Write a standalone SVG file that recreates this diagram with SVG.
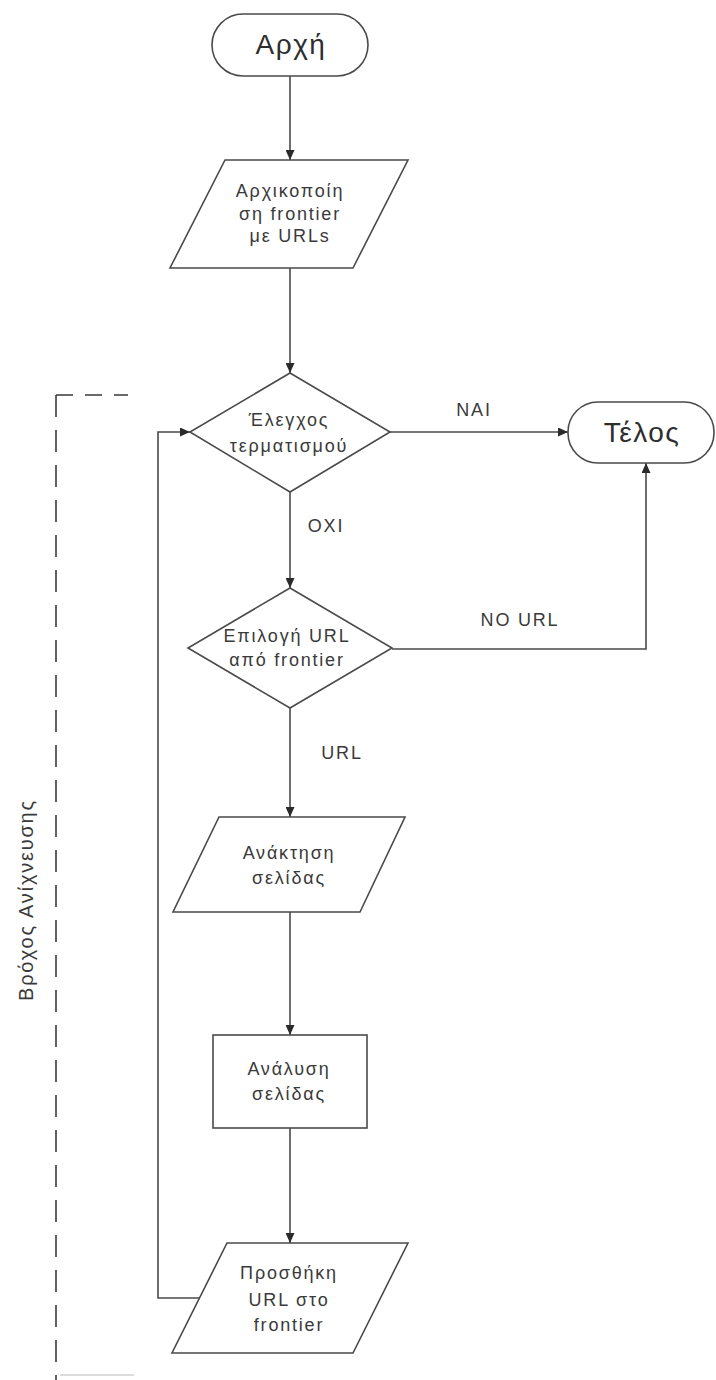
<svg xmlns="http://www.w3.org/2000/svg" width="716" height="1380" viewBox="0 0 716 1380">
<defs>
<marker id="arr" markerWidth="10" markerHeight="9" refX="10" refY="4.5" orient="auto" markerUnits="userSpaceOnUse">
<path d="M0,0 L10,4.5 L0,9 z" fill="#2a2a2a"/>
</marker>
<style>
.sh{fill:#fff;stroke:#4a4a4a;stroke-width:1.6}
.cn{fill:none;stroke:#4a4a4a;stroke-width:1.6}
.t{font-family:"Liberation Sans",Arial,sans-serif;font-size:18px;letter-spacing:1.8px;fill:#3a3a3a;text-anchor:middle}
.big{font-family:"Liberation Sans",Arial,sans-serif;font-size:28px;letter-spacing:1.5px;fill:#2e2e2e;text-anchor:middle}
.dash{fill:none;stroke:#3a3a3a;stroke-width:1.6}
</style>
</defs>
<rect x="0" y="0" width="716" height="1380" fill="#fff"/>

<g id="loop-boundary">
<line class="dash" x1="56" y1="395" x2="128" y2="395" stroke-dasharray="17 12"/>
<line class="dash" x1="56" y1="395" x2="56" y2="1380" stroke-dasharray="22 13"/>
<line x1="60" y1="1375" x2="134" y2="1375" stroke="#d0d0d0" stroke-width="1.5"/>
<text class="t" transform="translate(33,900) rotate(-90)" style="font-size:20px">Βρόχος Ανίχνευσης</text>
</g>

<g id="connectors">
<line class="cn" x1="290" y1="76" x2="290" y2="160" marker-end="url(#arr)"/>
<line class="cn" x1="290" y1="268" x2="290" y2="373" marker-end="url(#arr)"/>
<line class="cn" x1="390" y1="432" x2="568" y2="432" marker-end="url(#arr)"/>
<line class="cn" x1="290" y1="492" x2="290" y2="588" marker-end="url(#arr)"/>
<polyline class="cn" points="392,649 646,649 646,463" marker-end="url(#arr)"/>
<line class="cn" x1="290" y1="708" x2="290" y2="817" marker-end="url(#arr)"/>
<line class="cn" x1="290" y1="912" x2="290" y2="1035" marker-end="url(#arr)"/>
<line class="cn" x1="290" y1="1128" x2="290" y2="1243" marker-end="url(#arr)"/>
<polyline class="cn" points="199,1298 158,1298 158,432 190,432" marker-end="url(#arr)"/>
<text class="t" x="474" y="416">NAI</text>
<text class="t" x="326" y="532">OXI</text>
<text class="t" x="520" y="626">NO URL</text>
<text class="t" x="342" y="759">URL</text>
</g>

<g id="start">
<rect class="sh" x="212" y="14" width="156" height="62" rx="31" ry="31"/>
<text class="big" x="291" y="54">Αρχή</text>
</g>

<g id="init-frontier">
<polygon class="sh" points="225,160 408,160 353,268 170,268"/>
<text class="t" x="290" y="197">Αρχικοποίη</text>
<text class="t" x="290" y="220">ση frontier</text>
<text class="t" x="290" y="242">με URLs</text>
</g>

<g id="termination-check">
<polygon class="sh" points="290,373 390,432 290,492 190,432"/>
<text class="t" x="289" y="426">Έλεγχος</text>
<text class="t" x="289" y="452">τερματισμού</text>
</g>

<g id="end">
<rect class="sh" x="568" y="402" width="146" height="61" rx="30" ry="30"/>
<text class="big" x="642" y="442">Τέλος</text>
</g>

<g id="select-url">
<polygon class="sh" points="290,588 392,648 290,708 188,648"/>
<text class="t" x="287" y="642">Επιλογή URL</text>
<text class="t" x="287" y="666">από frontier</text>
</g>

<g id="fetch-page">
<polygon class="sh" points="219,817 405,817 360,912 173,912"/>
<text class="t" x="289" y="859">Ανάκτηση</text>
<text class="t" x="289" y="884">σελίδας</text>
</g>

<g id="parse-page">
<rect class="sh" x="213" y="1035" width="154" height="93"/>
<text class="t" x="289" y="1075">Ανάλυση</text>
<text class="t" x="289" y="1100">σελίδας</text>
</g>

<g id="add-url">
<polygon class="sh" points="227,1243 408,1243 353,1353 172,1353"/>
<text class="t" x="289" y="1279">Προσθήκη</text>
<text class="t" x="289" y="1306">URL στο</text>
<text class="t" x="289" y="1331">frontier</text>
</g>
</svg>
